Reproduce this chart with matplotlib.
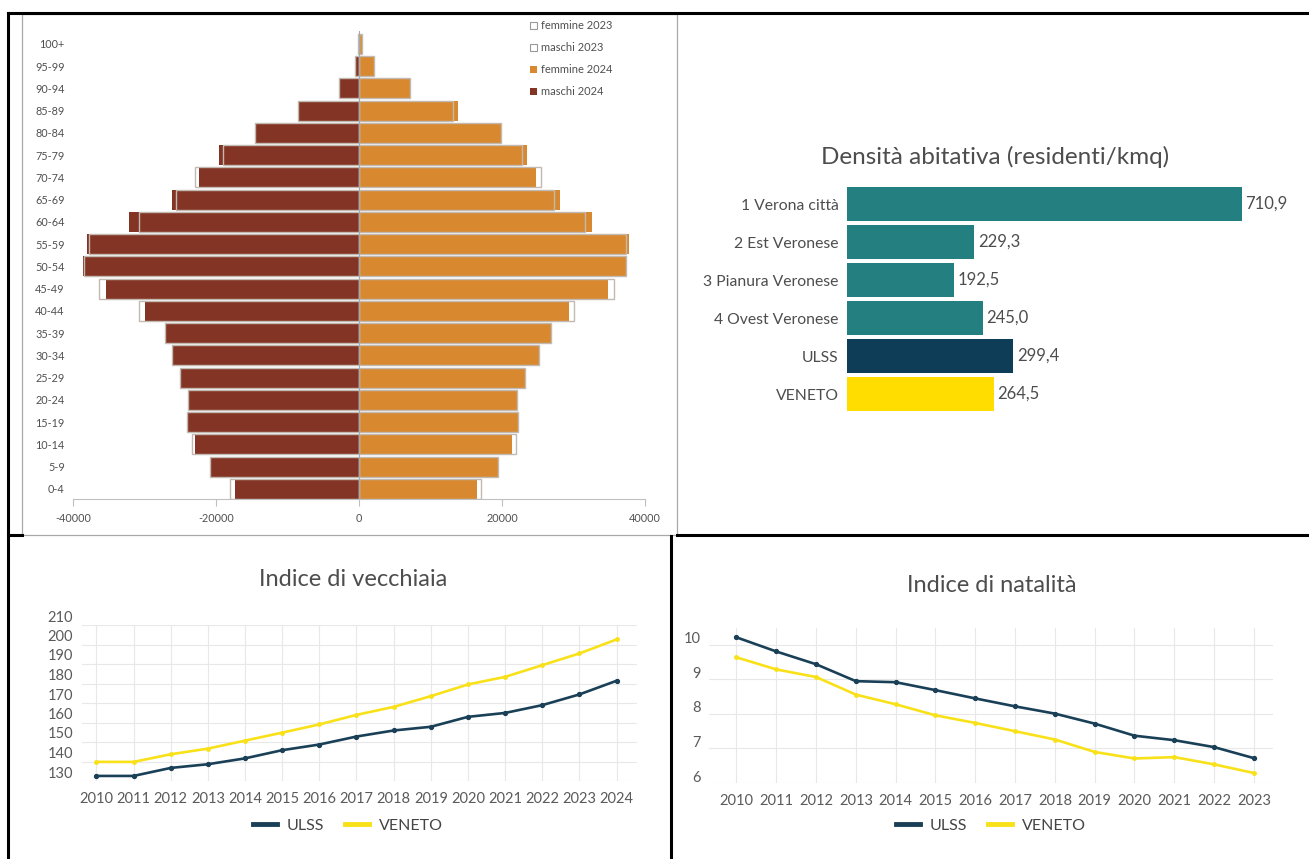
import matplotlib
matplotlib.use("Agg")
import matplotlib.pyplot as plt
import numpy as np
from matplotlib.lines import Line2D
from matplotlib.patches import Patch, Rectangle
from matplotlib.transforms import ScaledTranslation

plt.rcParams['font.family'] = ['Lato', 'DejaVu Sans']

# --- pyramid data (bottom to top) ---
age_groups = ['0-4', '5-9', '10-14', '15-19', '20-24', '25-29', '30-34', '35-39',
              '40-44', '45-49', '50-54', '55-59', '60-64', '65-69', '70-74',
              '75-79', '80-84', '85-89', '90-94', '95-99', '100+']
maschi_2024 = [17400, 20800, 23000, 23900, 23900, 25000, 26200, 27200, 29900, 35400,
               38600, 38000, 32100, 26100, 22400, 19600, 14600, 8600, 2850, 560, 120]
maschi_2023 = [18000, 20900, 23400, 24000, 23900, 25000, 26200, 27200, 30700, 36400,
               38500, 37700, 30750, 25600, 22900, 19000, 14600, 8500, 2800, 550, 110]
femmine_2024 = [16450, 19500, 21450, 22400, 22150, 23200, 25200, 26850, 29350, 34800,
                37500, 37750, 32650, 28050, 24800, 23450, 19800, 13900, 7100, 2150, 400]
femmine_2023 = [17000, 19500, 21950, 22300, 22150, 23200, 25200, 26850, 30050, 35600,
                37400, 37400, 31600, 27250, 25450, 22800, 19800, 13100, 7100, 2100, 380]

# --- density data ---
zone = ['1 Verona città', '2 Est Veronese', '3 Pianura Veronese', '4 Ovest Veronese', 'ULSS', 'VENETO']
densita = [710.9, 229.3, 192.5, 245.0, 299.4, 264.5]
zone_colors = ['#237f80', '#237f80', '#237f80', '#237f80', '#0d3d57', '#ffdd00']

# --- line charts data ---
anni_vecchiaia = list(range(2010, 2025))
vecchiaia_ulss = [132.6, 132.6, 136.7, 138.6, 141.6, 145.8, 148.7, 152.8, 155.9, 157.8,
                  162.9, 164.9, 168.9, 174.4, 181.4]
vecchiaia_veneto = [139.8, 139.8, 143.7, 146.6, 150.7, 154.8, 159.0, 163.9, 168.0, 173.5,
                    179.5, 183.4, 189.4, 195.4, 202.6]

anni_natalita = list(range(2010, 2024))
natalita_ulss = [10.22, 9.81, 9.44, 8.95, 8.92, 8.69, 8.45, 8.22, 8.01, 7.72, 7.37, 7.24, 7.04, 6.72]
natalita_veneto = [9.64, 9.29, 9.07, 8.56, 8.28, 7.96, 7.74, 7.50, 7.26, 6.90, 6.71, 6.75, 6.54, 6.29]

ulss_color = '#1a4058'
veneto_color = '#f9e11a'
text_gray = '#4d4d4d'

W, H = 1309, 859
fig = plt.figure(figsize=(W / 100, H / 100), dpi=100)
fig.patch.set_facecolor('white')


def px_axes(l, t, r, b):
    return fig.add_axes([l / W, 1 - b / H, (r - l) / W, (b - t) / H])


def fx(x):
    return x / W


def fy(y):
    return 1 - y / H


# ---------------- population pyramid ----------------
ax1 = px_axes(73, 30.6, 645, 499)
y = np.arange(len(age_groups))
ax1.barh(y, -np.array(maschi_2024), height=0.9, color='#843424', zorder=2)
ax1.barh(y, femmine_2024, height=0.9, color='#d8892f', zorder=2)
ax1.barh(y, -np.array(maschi_2023), height=0.9, facecolor='none', edgecolor='#c2bab2', lw=1, zorder=3)
ax1.barh(y, femmine_2023, height=0.9, facecolor='none', edgecolor='#c2bab2', lw=1, zorder=3)
ax1.axvline(0, color='#a8a8a8', lw=0.8, zorder=4)
ax1.set_xlim(-40000, 40000)
ax1.set_ylim(-0.45, 20.6)
ax1.set_yticks(y)
ax1.set_yticklabels(age_groups, fontsize=7.8, color='#505050')
ax1.tick_params(axis='y', length=0, pad=6)
ax1.set_xticks([-40000, -20000, 0, 20000, 40000])
ax1.set_xticklabels(['-40000', '-20000', '0', '20000', '40000'], fontsize=7.8, color='#505050')
ax1.tick_params(axis='x', length=5, color='#c0c0c0', pad=5)
for s in ['top', 'right', 'left']:
    ax1.spines[s].set_visible(False)
ax1.spines['bottom'].set_color('#c0c0c0')

handles = [Patch(facecolor='white', edgecolor='#999999', lw=0.8),
           Patch(facecolor='white', edgecolor='#999999', lw=0.8),
           Patch(facecolor='#d8892f'),
           Patch(facecolor='#843424')]
fig.legend(handles, ['femmine 2023', 'maschi 2023', 'femmine 2024', 'maschi 2024'],
           loc='upper left', bbox_to_anchor=(fx(520), fy(10)), frameon=False,
           fontsize=8, handlelength=0.6, handleheight=0.6, handletextpad=0.35,
           labelspacing=1.0, labelcolor='#505050')

fig.add_artist(Rectangle((fx(22), fy(535)), fx(677) - fx(22), fy(14) - fy(535),
                         transform=fig.transFigure, fill=False, edgecolor='#a8a8a8', lw=0.9))

# ---------------- density ----------------
ax2 = px_axes(847, 185, 1242, 413)
yy = np.arange(len(zone))
ax2.barh(yy, densita, height=0.89, color=zone_colors)
for i, v in enumerate(densita):
    ax2.text(v + 6, i, f"{v:.1f}".replace('.', ','), va='center', ha='left',
             fontsize=12, color=text_gray, clip_on=False)
ax2.set_xlim(0, 710.9)
ax2.set_ylim(5.5, -0.5)
ax2.set_yticks(yy)
ax2.set_yticklabels(zone, fontsize=11.3, color=text_gray)
ax2.tick_params(axis='y', length=0, pad=6)
ax2.set_xticks([])
for s in ax2.spines.values():
    s.set_visible(False)
fig.text(fx(995), fy(157), 'Densità abitativa (residenti/kmq)', ha='center', va='center',
         fontsize=17.5, color=text_gray)


# ---------------- line charts ----------------
def line_chart(ax, years, ulss, veneto, yticks, ylim, xlim, label_shift):
    ax.plot(years, veneto, color=veneto_color, lw=1.9, marker='o', markersize=2.5, zorder=3)
    ax.plot(years, ulss, color=ulss_color, lw=1.9, marker='o', markersize=2.8, zorder=4)
    ax.set_xlim(*xlim)
    ax.set_ylim(*ylim)
    ax.set_xticks(years)
    ax.set_xticklabels([str(a) for a in years], fontsize=10.5, color='#5a5a5a')
    ax.set_yticks(yticks)
    ax.set_yticklabels([str(t) for t in yticks], fontsize=10.5, color='#5a5a5a')
    ax.tick_params(length=0)
    ax.tick_params(axis='x', pad=8)
    ax.tick_params(axis='y', pad=6)
    ax.grid(True, color='#e8e8e8', lw=0.8)
    ax.set_axisbelow(True)
    for s in ax.spines.values():
        s.set_visible(False)
    off = ScaledTranslation(0, label_shift / 100, fig.dpi_scale_trans)
    for lab in ax.get_yticklabels():
        lab.set_transform(lab.get_transform() + off)


ax3 = px_axes(81.5, 625, 637, 781)
line_chart(ax3, anni_vecchiaia, vecchiaia_ulss, vecchiaia_veneto,
           list(range(130, 211, 10)), (130, 210), (2009.6, 2024.55), 9)
fig.text(fx(353), fy(580), 'Indice di vecchiaia', ha='center', va='center', fontsize=17, color=text_gray)

ax4 = px_axes(709, 628, 1273, 783)
line_chart(ax4, anni_natalita, natalita_ulss, natalita_veneto,
           [6, 7, 8, 9, 10], (6, 10.49), (2009.31, 2023.48), 7)
fig.text(fx(992), fy(585), 'Indice di natalità', ha='center', va='center', fontsize=17, color=text_gray)

leg_handles = [Line2D([], [], color=ulss_color, lw=3.5), Line2D([], [], color=veneto_color, lw=3.5)]
for cx in (348, 991):
    fig.legend(leg_handles, ['ULSS', 'VENETO'], loc='center', bbox_to_anchor=(fx(cx), fy(826)),
               ncol=2, frameon=False, fontsize=11.5, handlelength=1.5, handletextpad=0.6,
               columnspacing=1.3, labelcolor='#444444')

# ---------------- table borders ----------------
lw = 2.2
fig.add_artist(Line2D([fx(8), 1], [fy(13), fy(13)], transform=fig.transFigure, color='black', lw=lw))
fig.add_artist(Line2D([fx(8), fx(8)], [fy(13), 0], transform=fig.transFigure, color='black', lw=lw))
fig.add_artist(Line2D([fx(8), fx(22)], [fy(535), fy(535)], transform=fig.transFigure, color='black', lw=lw))
fig.add_artist(Line2D([fx(677), 1], [fy(535), fy(535)], transform=fig.transFigure, color='black', lw=lw))
fig.add_artist(Line2D([fx(671), fx(671)], [fy(536), 0], transform=fig.transFigure, color='black', lw=lw))

fig.savefig('out.png', dpi=100)
